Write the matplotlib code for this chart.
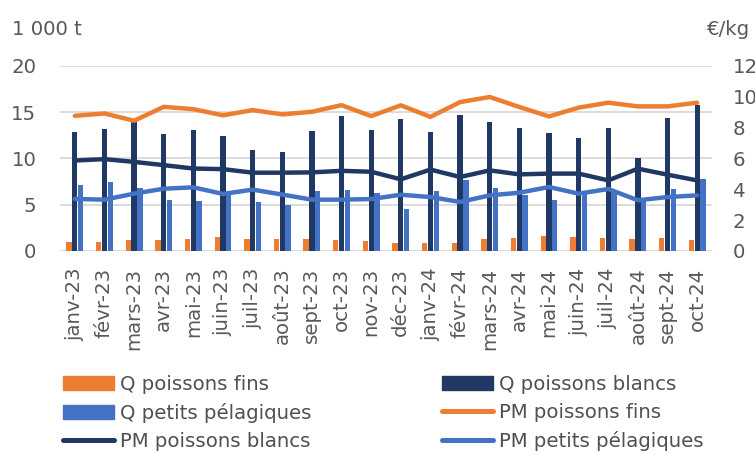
import matplotlib
matplotlib.use("Agg")
import matplotlib.pyplot as plt
import numpy as np
from matplotlib.patches import Patch
from matplotlib.lines import Line2D

plt.rcParams['font.family'] = ['DejaVu Sans']

months = ['janv-23', 'févr-23', 'mars-23', 'avr-23', 'mai-23', 'juin-23', 'juil-23',
          'août-23', 'sept-23', 'oct-23', 'nov-23', 'déc-23', 'janv-24', 'févr-24',
          'mars-24', 'avr-24', 'mai-24', 'juin-24', 'juil-24', 'août-24', 'sept-24', 'oct-24']

q_fins = [1.0, 0.95, 1.2, 1.2, 1.25, 1.5, 1.25, 1.35, 1.25, 1.15, 1.1,
          0.83, 0.9, 0.9, 1.33, 1.41, 1.62, 1.55, 1.37, 1.3, 1.37, 1.19]
q_blancs = [12.9, 13.2, 13.9, 12.7, 13.1, 12.4, 10.9, 10.75, 12.95, 14.6, 13.05,
            14.3, 12.9, 14.67, 13.9, 13.33, 12.8, 12.2, 13.26, 10.05, 14.4, 15.8]
q_pelag = [7.1, 7.5, 6.8, 5.5, 5.4, 6.2, 5.35, 4.95, 6.45, 6.6, 6.25,
           4.54, 6.5, 7.7, 6.85, 6.05, 5.5, 6.3, 6.4, 5.7, 6.74, 7.82]

pm_fins = [8.77, 8.92, 8.45, 9.35, 9.2, 8.8, 9.14, 8.86, 9.03, 9.46, 8.75,
           9.45, 8.7, 9.66, 9.99, 9.34, 8.73, 9.3, 9.62, 9.38, 9.38, 9.62]
pm_blancs = [5.87, 5.96, 5.78, 5.57, 5.35, 5.31, 5.08, 5.08, 5.1, 5.2, 5.14,
             4.65, 5.28, 4.8, 5.23, 4.97, 5.02, 5.02, 4.58, 5.34, 4.95, 4.58]
pm_pelag = [3.38, 3.33, 3.72, 4.04, 4.13, 3.7, 3.98, 3.66, 3.33, 3.33, 3.37,
            3.65, 3.5, 3.18, 3.61, 3.78, 4.15, 3.72, 4.02, 3.29, 3.5, 3.61]

C_OR = '#ED7D31'
C_NV = '#203864'
C_BL = '#4472C4'
TXT = '#595959'
FS = 14.2

fig = plt.figure(figsize=(7.55, 4.55), dpi=100)
ax = fig.add_axes([60/755, 204/455, 652/755, 185/455])
ax2 = ax.twinx()

x = np.arange(len(months))
w = 0.18
off = 0.195
ax.bar(x - off, q_fins, w, color=C_OR, zorder=2)
ax.bar(x, q_blancs, w, color=C_NV, zorder=2)
ax.bar(x + off, q_pelag, w, color=C_BL, zorder=2)

for vals, c in ((pm_fins, C_OR), (pm_blancs, C_NV), (pm_pelag, C_BL)):
    ax2.plot(x, vals, color=c, lw=3.2, solid_capstyle='round', solid_joinstyle='round')

ax.set_xlim(-0.5, len(months) - 0.5)
ax.set_ylim(0, 20)
ax2.set_ylim(0, 12)
ax.set_yticks([0, 5, 10, 15, 20])
ax2.set_yticks([0, 2, 4, 6, 8, 10, 12])
ax.yaxis.grid(True, color='#d9d9d9', lw=1.3, zorder=0)
ax.set_axisbelow(True)
for a in (ax, ax2):
    for s in a.spines.values():
        s.set_visible(False)
    a.tick_params(length=0, labelsize=FS, labelcolor=TXT)
ax.tick_params(axis='y', pad=17)
ax2.tick_params(axis='y', pad=15)
ax.set_xticks(x)
ax.set_xticklabels(months, rotation=90)
ax.tick_params(axis='x', pad=12)

fig.text(12/755, 1 - 35/455, '1 000 t', fontsize=FS, color=TXT, va='baseline', ha='left')
fig.text(707/755, 1 - 35/455, '€/kg', fontsize=FS, color=TXT, va='baseline', ha='left')

h_qf = Patch(color=C_OR)
h_qb = Patch(color=C_NV)
h_qp = Patch(color=C_BL)
h_pf = Line2D([], [], color=C_OR, lw=3.6, solid_capstyle='round')
h_pb = Line2D([], [], color=C_NV, lw=3.6, solid_capstyle='round')
h_pp = Line2D([], [], color=C_BL, lw=3.6, solid_capstyle='round')

common = dict(frameon=False, handlelength=2.6, handleheight=0.71,
              handletextpad=0.28, labelspacing=0.45, borderpad=0, borderaxespad=0,
              labelcolor='#505050', loc='upper left', fontsize=FS)
fig.legend([h_qf, h_qp, h_pb], ['Q poissons fins', 'Q petits pélagiques', 'PM poissons blancs'],
           bbox_to_anchor=(63/755, 1 - 375/455), **common)
fig.legend([h_qb, h_pf, h_pp], ['Q poissons blancs', 'PM poissons fins', 'PM petits pélagiques'],
           bbox_to_anchor=(442/755, 1 - 375/455), **common)

fig.savefig('out.png', dpi=100)
